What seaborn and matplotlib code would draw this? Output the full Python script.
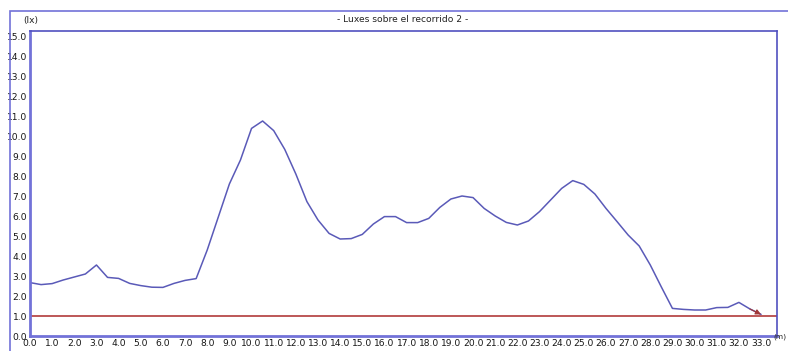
import matplotlib
matplotlib.use("Agg")
import matplotlib.pyplot as plt
import seaborn as sns
import pandas as pd
from matplotlib.patches import Rectangle

# Distance along the route (m) and measured illuminance (lx)
distance = [i * 0.5 for i in range(67)]
luxes = [2.67, 2.57, 2.62, 2.80, 2.95, 3.10, 3.55, 2.93, 2.88, 2.63,
         2.52, 2.44, 2.43, 2.63, 2.78, 2.87, 4.30, 5.95, 7.60, 8.80,
         10.38, 10.75, 10.27, 9.33, 8.10, 6.72, 5.80, 5.13, 4.85, 4.87,
         5.08, 5.60, 5.97, 5.97, 5.67, 5.67, 5.88, 6.43, 6.85, 7.00,
         6.92, 6.38, 6.00, 5.68, 5.55, 5.75, 6.22, 6.80, 7.38, 7.77,
         7.58, 7.10, 6.38, 5.72, 5.05, 4.50, 3.55, 2.45, 1.38, 1.33,
         1.30, 1.30, 1.42, 1.43, 1.68, 1.35, 1.08]
threshold = 1.0
x_ticks = [float(v) for v in range(34)]
y_ticks = [float(v) for v in range(16)]

title = "- Luxes sobre el recorrido 2 -"
y_unit = "(lx)"
x_unit = "(m)"

sns.set_style("white")
plt.rcParams["font.family"] = ["DejaVu Sans"]

W, H = 788, 351
fig = plt.figure(figsize=(W / 100, H / 100), dpi=100)
left, right, top, bottom = 30, 777, 31, 336
ax = fig.add_axes([left / W, (H - bottom) / H, (right - left) / W, (bottom - top) / H])

frame_color = "#7272d8"
line_color = "#5a5ab8"
red_color = "#b84a4a"

# outer frame of the chart panel
fig.add_artist(Rectangle((10 / W, -0.1), 1.2, (H - 11) / H + 0.1,
                         transform=fig.transFigure, fill=False,
                         edgecolor=frame_color, linewidth=1.2))

df = pd.DataFrame({"distance": distance, "luxes": luxes})
sns.lineplot(data=df, x="distance", y="luxes", ax=ax, color=line_color,
             linewidth=1.1, legend=False)
ax.annotate("", xy=(distance[-1], luxes[-1]), xytext=(distance[-2], luxes[-2]),
            arrowprops=dict(arrowstyle="-|>", color="#a03838", lw=0.8,
                            mutation_scale=8, shrinkA=0, shrinkB=0))
ax.axhline(threshold, color=red_color, linewidth=1.3, zorder=1)

ax.set_xlim(0, 33.72)
ax.set_ylim(0, 15.25)
ax.set_xticks(x_ticks)
ax.set_yticks(y_ticks)
ax.set_xticklabels([f"{v:.1f}" for v in x_ticks])
ax.set_yticklabels([f"{v:.1f}" for v in y_ticks])
ax.tick_params(direction="in", length=4.5, width=1, colors="#151515",
               labelsize=6.6, pad=2)
ax.set_xlabel("")
ax.set_ylabel("")
for side, sp in ax.spines.items():
    sp.set_visible(True)
    sp.set_color(frame_color)
    sp.set_linewidth(1.2)
ax.spines["left"].set_linewidth(2.0)
ax.spines["bottom"].set_linewidth(2.0)
ax.spines["top"].set_color("#5050c0")
ax.spines["right"].set_color("#5050c0")

fig.text(403 / W, 1 - 20 / H, title, ha="center", va="center",
         fontsize=6.6, color="#222222")
fig.text(23 / W, 1 - 20 / H, y_unit, ha="left", va="center",
         fontsize=6.6, color="#222222")
fig.text(787 / W, 1 - 337 / H, x_unit, ha="right", va="center",
         fontsize=5.4, color="#222222")

fig.savefig("out.png", dpi=100)
